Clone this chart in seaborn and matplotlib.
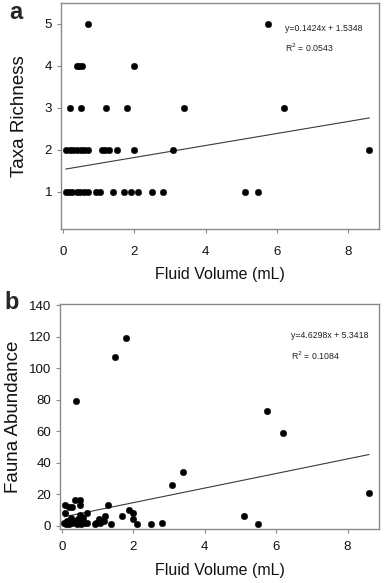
import matplotlib
matplotlib.use("Agg")
import matplotlib.pyplot as plt
import seaborn as sns
import numpy as np

# panel a: taxa richness vs fluid volume
vol_a = [0.70, 5.74,
         0.38, 0.45, 0.52, 2.0,
         0.19, 0.50, 1.2, 1.8, 3.4, 6.2,
         0.07, 0.19, 0.28, 0.38, 0.50, 0.59, 0.70, 1.08, 1.17, 1.29, 1.5, 2.0, 3.09, 8.6,
         0.07, 0.16, 0.25, 0.38, 0.47, 0.59, 0.70, 0.92, 1.03, 1.39, 1.70, 1.89, 2.1, 2.5, 2.81, 5.1, 5.48]
richness = [5, 5,
            4, 4, 4, 4,
            3, 3, 3, 3, 3, 3,
            2, 2, 2, 2, 2, 2, 2, 2, 2, 2, 2, 2, 2, 2,
            1, 1, 1, 1, 1, 1, 1, 1, 1, 1, 1, 1, 1, 1, 1, 1, 1]

# panel b: fauna abundance vs fluid volume
vol_b = [0.07, 0.1, 0.1, 0.12, 0.16, 0.19, 0.2, 0.25, 0.28, 0.28, 0.38, 0.38, 0.4, 0.42,
         0.45, 0.47, 0.5, 0.5, 0.5, 0.52, 0.55, 0.59, 0.62, 0.7, 0.7, 0.92, 0.97, 1.03,
         1.08, 1.17, 1.2, 1.29, 1.39, 1.5, 1.7, 1.8, 1.89, 2.0, 2.0, 2.1, 2.5, 2.81,
         3.09, 3.4, 5.1, 5.48, 5.74, 6.2, 8.6]
abundance = [2, 13, 8, 1, 3, 12, 1, 5, 12, 2, 3, 16, 79, 1,
             4, 2, 16, 13, 7, 3, 1, 5, 2, 8, 2, 1, 2, 4,
             2, 3, 6, 13, 1, 107, 6, 119, 10, 8, 4, 1, 1, 2,
             26, 34, 6, 1, 73, 59, 21]

fit_a = (0.1424, 1.5348, 0.0543)
fit_b = (4.6298, 5.3418, 0.1084)

sns.set_style("white")
plt.rcParams['font.family'] = ['Liberation Sans', 'DejaVu Sans']

fig = plt.figure(figsize=(3.87, 5.83), dpi=100)
ax1 = fig.add_axes([61/387, 1-229/583, 318/387, 226/583])
ax2 = fig.add_axes([60/387, 1-529/583, 319/387, 225/583])

spine_col = "#8a8a8a"


def draw_panel(ax, x, y, fit, ylabel, ypad, xpad, xlim, ylim, yticks, letter, txt_pos):
    sns.scatterplot(x=x, y=y, ax=ax, color="black", s=22, edgecolor="black", linewidth=0.3, zorder=3)
    slope, icpt, r2 = fit
    xx = np.array([min(x), max(x)])
    ax.plot(xx, slope*xx + icpt, color="#3a3a3a", linewidth=0.8, zorder=2)
    ax.set_xlim(*xlim)
    ax.set_ylim(*ylim)
    ax.set_xticks([0, 2, 4, 6, 8])
    ax.set_yticks(yticks)
    for s in ax.spines.values():
        s.set_color(spine_col)
        s.set_linewidth(1.0)
    ax.tick_params(axis='both', which='major', direction='out', length=3, width=0.8,
                   color=spine_col, labelsize=9.5, labelcolor="#111111",
                   bottom=True, left=True, top=False, right=False)
    ax.tick_params(axis='x', pad=xpad)
    ax.tick_params(axis='y', pad=3.5)
    ax.set_xlabel("Fluid Volume (mL)", fontsize=11.5, color="#111111", labelpad=7)
    ax.set_ylabel(ylabel, fontsize=13.5, color="#111111", labelpad=ypad)
    ax.text(txt_pos[0], txt_pos[1], f"y={slope:.4f}x + {icpt:.4f}", transform=ax.transAxes,
            fontsize=6.3, color="#222222", va="center", ha="left")
    ax.text(txt_pos[0], txt_pos[2], f"R$^2$ = {r2:.4f}", transform=ax.transAxes,
            fontsize=6.3, color="#222222", va="center", ha="left")
    ax.text(letter[1], letter[2], letter[0], transform=fig.transFigure, fontsize=17,
            fontweight="bold", ha="left", va="top")


draw_panel(ax1, vol_a, richness, fit_a, "Taxa Richness", 12, 9, (-0.065, 8.87), (0.12, 5.49),
           [1, 2, 3, 4, 5], ("a", 9/387, 1-1/583), (0.705, 0.885, 0.80))
draw_panel(ax2, vol_b, abundance, fit_b, "Fauna Abundance", 5, 6, (-0.048, 8.88), (-2.1, 140.7),
           [0, 20, 40, 60, 80, 100, 120, 140], ("b", 4/387, 1-291/583), (0.725, 0.86, 0.77))

fig.savefig("out.png", dpi=100)
